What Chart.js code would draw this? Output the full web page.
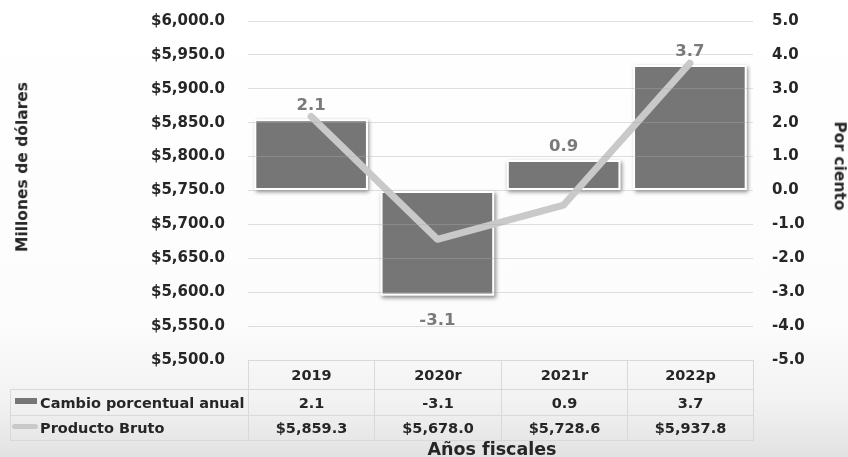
<!DOCTYPE html>
<html lang="es">
<head>
<meta charset="utf-8">
<script src="https://cdn.jsdelivr.net/npm/chart.js@4.4.0/dist/chart.umd.min.js"></script>
<style>
  html, body { margin: 0; padding: 0; }
  body {
    width: 848px; height: 457px; position: relative; overflow: hidden;
    background: linear-gradient(to bottom, #ffffff 0%, #fcfcfc 70%, #f2f2f2 88%, #e2e2e2 100%);
    font-family: "DejaVu Sans", sans-serif; font-weight: bold; color: #262626;
  }
  #grafico { position: absolute; left: 0; top: 0; }
  .titulo { position: absolute; white-space: nowrap; line-height: 1; }
  .celda {
    position: absolute; box-sizing: border-box; border: 1px solid #d9d9d9;
    display: flex; align-items: center; justify-content: center;
    font-size: 14.5px; white-space: nowrap;
  }
  .etiqueta { justify-content: flex-start; padding-left: 29px; }
  .muestra { position: absolute; }
</style>
</head>
<body>
<canvas id="grafico" width="848" height="457"></canvas>
<div class="titulo" style="left:22.5px; top:167px; font-size:15.5px; transform:translate(-50%,-50%) rotate(-90deg);">Millones de dólares</div>
<div class="titulo" style="left:838.5px; top:166px; font-size:15.5px; transform:translate(-50%,-50%) rotate(90deg);">Por ciento</div>
<div class="titulo" style="left:492px; top:441px; font-size:17.5px; transform:translateX(-50%);">Años fiscales</div>
<div id="tabla"></div>
<script>
// datos
const categorias = ["2019", "2020r", "2021r", "2022p"];
const cambioPorcentual = [2.1, -3.1, 0.9, 3.7];
const productoBruto = [5859.3, 5678.0, 5728.6, 5937.8];
const serieBarras = "Cambio porcentual anual";
const serieLinea = "Producto Bruto";

// escalas
const izqMin = 5500, izqMax = 6000, izqPaso = 50;
const derMin = -5, derMax = 5, derPaso = 1;

const colorBarra = "#767676";
const colorLinea = "#c9c9c9";
const fuente = "'DejaVu Sans', sans-serif";

function formatoDolar(v) {
  return "$" + new Intl.NumberFormat("en-US", { minimumFractionDigits: 1, maximumFractionDigits: 1 }).format(v);
}

// sombra detrás de las barras
const sombraBarras = {
  id: "sombraBarras",
  beforeDatasetDraw(chart, args) {
    if (args.meta.type !== "bar") return;
    const ctx = chart.ctx;
    ctx.save();
    ctx.shadowColor = "rgba(0,0,0,0.45)";
    ctx.shadowBlur = 4;
    ctx.shadowOffsetX = 1.5;
    ctx.shadowOffsetY = 2;
    ctx.fillStyle = "#ffffff";
    args.meta.data.forEach(el => {
      const p = el.getProps(["x", "y", "base", "width"], true);
      ctx.fillRect(p.x - p.width / 2, Math.min(p.y, p.base), p.width, Math.abs(p.base - p.y));
    });
    ctx.restore();
  }
};

// etiquetas de valor de las barras
const etiquetasBarras = {
  id: "etiquetasBarras",
  afterDraw(chart) {
    const ctx = chart.ctx;
    chart.data.datasets.forEach((ds, i) => {
      const meta = chart.getDatasetMeta(i);
      if (meta.type !== "bar") return;
      ctx.save();
      ctx.font = "bold 16.5px " + fuente;
      ctx.fillStyle = "#7a7a7a";
      ctx.textAlign = "center";
      ctx.textBaseline = "alphabetic";
      meta.data.forEach((el, j) => {
        const v = ds.data[j];
        const y = v >= 0 ? el.y - 9 : el.y + 29;
        ctx.fillText(v.toFixed(1), el.x, y);
      });
      ctx.restore();
    });
  }
};

const chart = new Chart(document.getElementById("grafico"), {
  type: "bar",
  data: {
    labels: categorias,
    datasets: [
      {
        type: "line",
        label: serieLinea,
        data: productoBruto,
        yAxisID: "y",
        borderColor: colorLinea,
        borderWidth: 7,
        borderCapStyle: "round",
        borderJoinStyle: "round",
        pointRadius: 0,
        tension: 0,
        order: 0
      },
      {
        type: "bar",
        label: serieBarras,
        data: cambioPorcentual,
        yAxisID: "y1",
        backgroundColor: colorBarra,
        borderColor: "#ffffff",
        borderWidth: 2,
        borderSkipped: false,
        categoryPercentage: 0.9,
        barPercentage: 1,
        order: 1
      }
    ]
  },
  options: {
    responsive: false,
    animation: false,
    layout: { padding: { top: 21, bottom: 97, left: 0, right: 0 } },
    plugins: { legend: { display: false }, tooltip: { enabled: false } },
    scales: {
      x: { display: false },
      y: {
        position: "left",
        min: izqMin, max: izqMax,
        afterFit: s => { s.width = 248; },
        border: { display: false },
        grid: { color: "rgba(170,170,170,0.38)", drawTicks: true, tickLength: 20, tickColor: "rgba(0,0,0,0)", z: 1 },
        ticks: {
          stepSize: izqPaso, autoSkip: false, padding: 3,
          color: "#262626", font: { family: fuente, weight: "bold", size: 15 },
          callback: v => formatoDolar(v)
        }
      },
      y1: {
        position: "right",
        min: derMin, max: derMax,
        afterFit: s => { s.width = 95; },
        border: { display: false },
        grid: { display: true, drawOnChartArea: false, drawTicks: true, tickLength: 16, tickColor: "rgba(0,0,0,0)", color: "rgba(0,0,0,0)" },
        ticks: {
          stepSize: derPaso, autoSkip: false, padding: 3,
          color: "#262626", font: { family: fuente, weight: "bold", size: 15 },
          callback: v => Number(v).toFixed(1)
        }
      }
    }
  },
  plugins: [sombraBarras, etiquetasBarras]
});

// tabla de datos debajo del gráfico
function construirTabla() {
  const area = chart.chartArea;
  const cont = document.getElementById("tabla");
  const ancho = (area.right - area.left) / categorias.length;
  const filas = [
    { top: 360, alto: 30 },
    { top: 389, alto: 27 },
    { top: 415, alto: 26 }
  ];

  function celda(texto, left, w, fila, clase) {
    const d = document.createElement("div");
    d.className = "celda" + (clase ? " " + clase : "");
    d.style.left = left + "px";
    d.style.top = fila.top + "px";
    d.style.width = w + "px";
    d.style.height = fila.alto + "px";
    d.textContent = texto;
    cont.appendChild(d);
    return d;
  }

  categorias.forEach((c, i) => {
    const left = Math.round(area.left + i * ancho);
    const w = Math.round(area.left + (i + 1) * ancho) - left + 1;
    celda(c, left, w, filas[0]);
    celda(cambioPorcentual[i].toFixed(1), left, w, filas[1]);
    celda(formatoDolar(productoBruto[i]), left, w, filas[2]);
  });

  const izq = 10, anchoEtq = Math.round(area.left) - 10 + 1;
  celda(serieBarras, izq, anchoEtq, filas[1], "etiqueta");
  celda(serieLinea, izq, anchoEtq, filas[2], "etiqueta");

  const m1 = document.createElement("div");
  m1.className = "muestra";
  m1.style.cssText = "left:15px; top:398px; width:22px; height:6px; background:" + colorBarra + ";";
  cont.appendChild(m1);
  const m2 = document.createElement("div");
  m2.className = "muestra";
  m2.style.cssText = "left:12px; top:424px; width:26px; height:5px; border-radius:3px; background:" + colorLinea + ";";
  cont.appendChild(m2);
}
construirTabla();
</script>
</body>
</html>
